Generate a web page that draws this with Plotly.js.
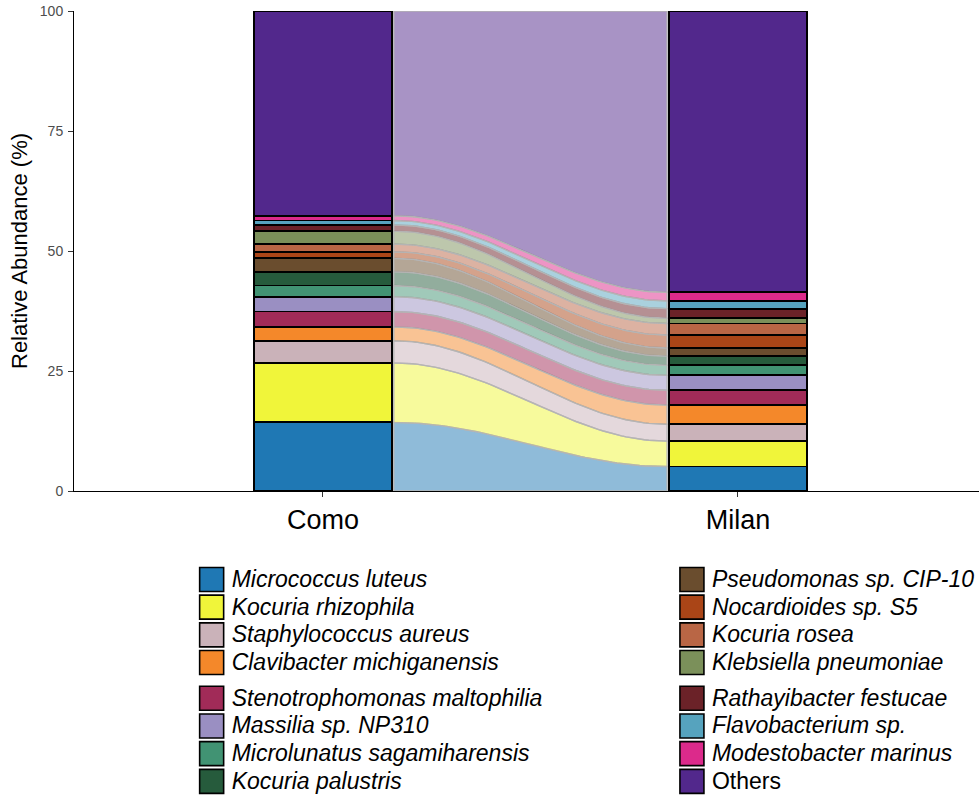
<!DOCTYPE html>
<html>
<head>
<meta charset="utf-8">
<script src="https://cdn.plot.ly/plotly-3.0.1.min.js"></script>
<style>
  html, body { margin: 0; padding: 0; background: #fff; }
  #chart { width: 979px; height: 797px; }
</style>
</head>
<body>
<div id="chart"></div>
<script>
// Sites on the x axis
const sites = ['Como', 'Milan'];
const sitePos = [1, 2];

// Taxa, bottom of the stack first
const taxa = [
  'Micrococcus luteus', 'Kocuria rhizophila', 'Staphylococcus aureus', 'Clavibacter michiganensis',
  'Stenotrophomonas maltophilia', 'Massilia sp. NP310', 'Microlunatus sagamiharensis', 'Kocuria palustris',
  'Pseudomonas sp. CIP-10', 'Nocardioides sp. S5', 'Kocuria rosea', 'Klebsiella pneumoniae',
  'Rathayibacter festucae', 'Flavobacterium sp.', 'Modestobacter marinus', 'Others'
];

// Relative abundance (%) per site
const comoAbundance = [14.3, 12.4, 4.6, 2.9, 3.2, 3.1, 2.3, 2.9, 2.8, 1.35, 1.6, 2.7, 1.3, 0.9, 1.0, 42.65];
const milanAbundance = [5.1, 5.3, 3.5, 4.0, 3.1, 3.1, 2.1, 1.9, 1.7, 2.7, 2.4, 1.1, 2.0, 1.6, 1.8, 58.6];

const taxaColors = [
  '#1F78B4', '#F0F53A', '#CAB2B9', '#F4882A',
  '#A12B58', '#9A8FC2', '#419373', '#265B3C',
  '#6A4D2E', '#AA4517', '#B96645', '#7B905A',
  '#6B2228', '#56A3BE', '#DC2A8B', '#52288C'
];

const FONT = '"Liberation Sans", Arial, Helvetica, sans-serif';
const barWidth = 1 / 3;

function hexToRgba(hex, a) {
  const n = parseInt(hex.slice(1), 16);
  return 'rgba(' + ((n >> 16) & 255) + ',' + ((n >> 8) & 255) + ',' + (n & 255) + ',' + a + ')';
}

function legendLabel(name) {
  const txt = name === 'Others' ? name : '<i>' + name + '</i>';
  return '<span style="font-size:23px">' + txt + '</span>';
}

const traces = [];

// Alluvial ribbons between the two stacked bars
const ease = t => (1 - Math.cos(Math.PI * t)) / 2;
const edgePad = 0.004;           // keeps the bar outlines visible
const xa = sitePos[0] + barWidth / 2 + edgePad;
const xb = sitePos[1] - barWidth / 2 - edgePad;
const steps = 60;
let comoBase = 0, milanBase = 0;
taxa.forEach((name, i) => {
  const c0 = comoBase, c1 = comoBase + comoAbundance[i];
  const m0 = milanBase, m1 = milanBase + milanAbundance[i];
  comoBase = c1; milanBase = m1;
  const xs = [], ys = [];
  for (let k = 0; k <= steps; k++) {
    const t = k / steps;
    xs.push(xa + (xb - xa) * t);
    ys.push(c1 + (m1 - c1) * ease(t));
  }
  for (let k = steps; k >= 0; k--) {
    const t = k / steps;
    xs.push(xa + (xb - xa) * t);
    ys.push(c0 + (m0 - c0) * ease(t));
  }
  xs.push(xs[0]); ys.push(ys[0]);
  traces.push({
    type: 'scatter', mode: 'lines', x: xs, y: ys,
    fill: 'toself', fillcolor: hexToRgba(taxaColors[i], 0.5),
    line: { color: 'rgba(180,180,180,0.95)', width: 1.4 },
    hoverinfo: 'skip', showlegend: false
  });
});

// Stacked bars (strata)
taxa.forEach((name, i) => {
  traces.push({
    type: 'bar',
    name: legendLabel(name),
    x: sitePos,
    y: [comoAbundance[i], milanAbundance[i]],
    width: barWidth,
    marker: { color: taxaColors[i], line: { color: '#000', width: 1.8 } },
    legend: i < 8 ? 'legend' : 'legend2',
    legendgroup: 'g' + Math.floor(i / 4),
    hovertemplate: name + ': %{y}%<extra></extra>'
  });
});

const legendBase = {
  orientation: 'v', xanchor: 'left', yanchor: 'top', y: -0.145,
  traceorder: 'grouped', tracegroupgap: 8,
  bgcolor: 'rgba(0,0,0,0)', borderwidth: 0,
  font: { family: FONT, size: 19, color: '#000' },
  itemclick: false, itemdoubleclick: false
};

const layout = {
  width: 979, height: 797,
  margin: { l: 74, r: 0, t: 11, b: 306, autoexpand: false },
  paper_bgcolor: '#fff', plot_bgcolor: '#fff',
  barmode: 'stack',
  showlegend: true,
  font: { family: FONT, color: '#000' },
  xaxis: {
    range: [0.4, 2.581], tickvals: sitePos, ticktext: sites,
    showgrid: false, zeroline: false,
    showline: true, linecolor: '#000', linewidth: 1,
    ticks: 'outside', ticklen: 5, tickwidth: 1, tickcolor: '#333',
    tickfont: { family: FONT, size: 27, color: '#000' }
  },
  yaxis: {
    range: [0, 100], tickvals: [0, 25, 50, 75, 100],
    showgrid: false, zeroline: false,
    showline: true, linecolor: '#000', linewidth: 1,
    ticks: 'outside', ticklen: 5, tickwidth: 1, tickcolor: '#333',
    tickfont: { family: FONT, size: 14, color: '#4D4D4D' },
    ticklabelstandoff: 2,
    title: { text: 'Relative Abundance (%)', standoff: 6, font: { family: FONT, size: 22, color: '#000' } }
  },
  legend: Object.assign({}, legendBase, { x: 0.13 }),
  legend2: Object.assign({}, legendBase, { x: 0.6607 })
};

Plotly.newPlot('chart', traces, layout, { displayModeBar: false, staticPlot: true }).then(gd => {
  // enlarge the legend keys to ggplot-sized squares
  gd.querySelectorAll('.legendpoints path').forEach(p => {
    p.setAttribute('d', 'M12,12H-12V-12H12Z');
    p.style.strokeWidth = '1.6px';
  });
});
</script>
</body>
</html>
